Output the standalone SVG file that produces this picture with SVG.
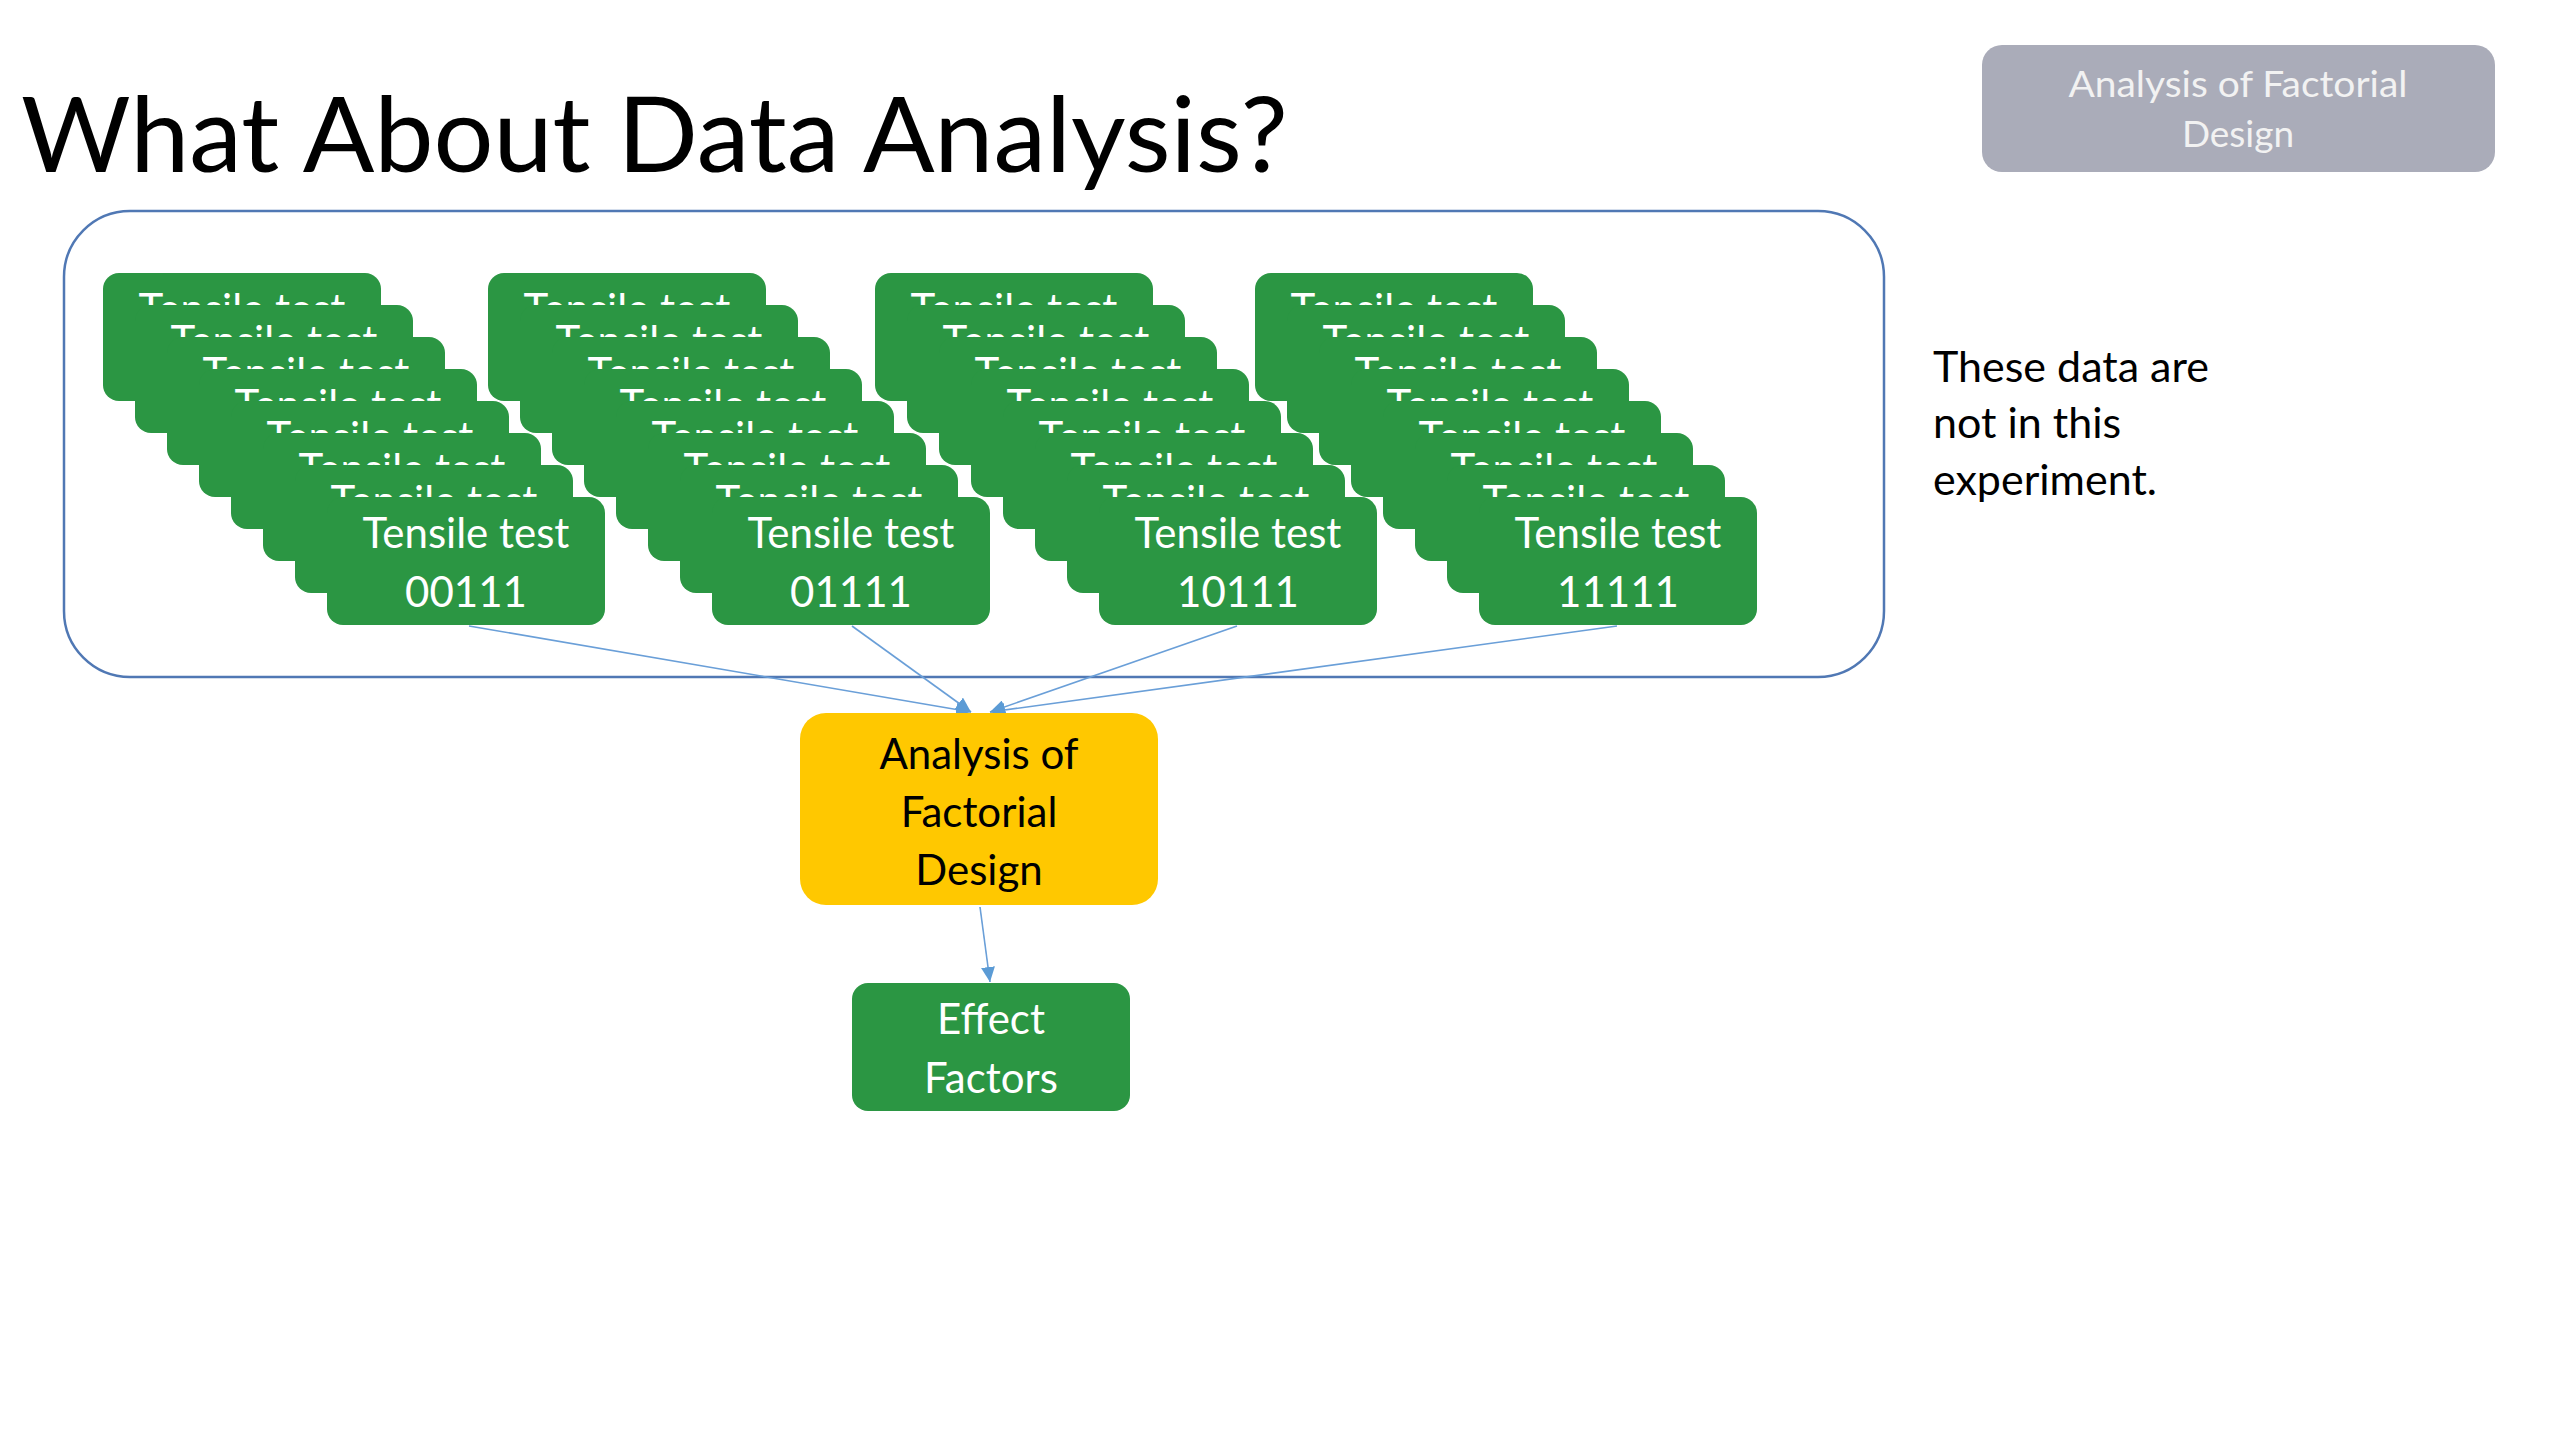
<svg xmlns="http://www.w3.org/2000/svg" width="2560" height="1440" viewBox="0 0 2560 1440">
<style>
.card{fill:#2B9643;}
.ct{fill:#FFFFFF;font-family:Lato,"Open Sans","Liberation Sans",sans-serif;font-size:42px;text-anchor:middle;}
.bt{fill:#000000;font-family:Lato,"Open Sans","Liberation Sans",sans-serif;font-size:42px;text-anchor:middle;}
.conn{stroke:#6A9FD8;stroke-width:1.6;fill:none;}
</style>
<defs>
<marker id="arr" markerUnits="userSpaceOnUse" markerWidth="15" markerHeight="14" refX="15" refY="7" orient="auto">
<path d="M0,0 L15,7 L0,14 z" fill="#5B9BD5"/>
</marker>
<clipPath id="hc"><rect x="0" y="0" width="278" height="32"/></clipPath>
</defs>
<rect width="2560" height="1440" fill="#FFFFFF"/>

<g id="title">
<text x="21" y="172" font-family="Lato,'Open Sans','Liberation Sans',sans-serif" font-weight="400" font-size="104" fill="#000000" textLength="1267" lengthAdjust="spacingAndGlyphs">What About Data Analysis?</text>
</g>

<g id="section-badge">
<rect x="1982" y="45" width="513" height="127" rx="20" fill="#AAACB9"/>
<text x="2238" y="97" font-family="Lato,'Open Sans','Liberation Sans',sans-serif" font-size="37" fill="#F2F2F2" text-anchor="middle" textLength="339" lengthAdjust="spacingAndGlyphs">Analysis of Factorial</text>
<text x="2238" y="147" font-family="Lato,'Open Sans','Liberation Sans',sans-serif" font-size="37" fill="#F2F2F2" text-anchor="middle">Design</text>
</g>

<g id="container">
<rect x="64" y="211" width="1820" height="466" rx="66" fill="none" stroke="#5078B4" stroke-width="2.5"/>
</g>

<g id="note">
<text font-family="Lato,'Open Sans','Liberation Sans',sans-serif" font-size="43" fill="#000000">
<tspan x="1933" y="382">These data are</tspan>
<tspan x="1933" y="438">not in this</tspan>
<tspan x="1933" y="495">experiment.</tspan>
</text>
</g>

<g id="stack-1">
<g id="stack-1-card-1" transform="translate(103,273)"><rect class="card" width="278" height="128" rx="16"/><text class="ct" x="139" y="51" clip-path="url(#hc)">Tensile test</text></g>
<g id="stack-1-card-2" transform="translate(135,305)"><rect class="card" width="278" height="128" rx="16"/><text class="ct" x="139" y="51" clip-path="url(#hc)">Tensile test</text></g>
<g id="stack-1-card-3" transform="translate(167,337)"><rect class="card" width="278" height="128" rx="16"/><text class="ct" x="139" y="51" clip-path="url(#hc)">Tensile test</text></g>
<g id="stack-1-card-4" transform="translate(199,369)"><rect class="card" width="278" height="128" rx="16"/><text class="ct" x="139" y="51" clip-path="url(#hc)">Tensile test</text></g>
<g id="stack-1-card-5" transform="translate(231,401)"><rect class="card" width="278" height="128" rx="16"/><text class="ct" x="139" y="51" clip-path="url(#hc)">Tensile test</text></g>
<g id="stack-1-card-6" transform="translate(263,433)"><rect class="card" width="278" height="128" rx="16"/><text class="ct" x="139" y="51" clip-path="url(#hc)">Tensile test</text></g>
<g id="stack-1-card-7" transform="translate(295,465)"><rect class="card" width="278" height="128" rx="16"/><text class="ct" x="139" y="51" clip-path="url(#hc)">Tensile test</text></g>
<g id="test-00111" transform="translate(327,497)"><rect class="card" width="278" height="128" rx="16"/><text class="ct" x="139" y="51">Tensile test</text><text class="ct" x="139" y="110">00111</text></g>
</g>

<g id="stack-2">
<g id="stack-2-card-1" transform="translate(488,273)"><rect class="card" width="278" height="128" rx="16"/><text class="ct" x="139" y="51" clip-path="url(#hc)">Tensile test</text></g>
<g id="stack-2-card-2" transform="translate(520,305)"><rect class="card" width="278" height="128" rx="16"/><text class="ct" x="139" y="51" clip-path="url(#hc)">Tensile test</text></g>
<g id="stack-2-card-3" transform="translate(552,337)"><rect class="card" width="278" height="128" rx="16"/><text class="ct" x="139" y="51" clip-path="url(#hc)">Tensile test</text></g>
<g id="stack-2-card-4" transform="translate(584,369)"><rect class="card" width="278" height="128" rx="16"/><text class="ct" x="139" y="51" clip-path="url(#hc)">Tensile test</text></g>
<g id="stack-2-card-5" transform="translate(616,401)"><rect class="card" width="278" height="128" rx="16"/><text class="ct" x="139" y="51" clip-path="url(#hc)">Tensile test</text></g>
<g id="stack-2-card-6" transform="translate(648,433)"><rect class="card" width="278" height="128" rx="16"/><text class="ct" x="139" y="51" clip-path="url(#hc)">Tensile test</text></g>
<g id="stack-2-card-7" transform="translate(680,465)"><rect class="card" width="278" height="128" rx="16"/><text class="ct" x="139" y="51" clip-path="url(#hc)">Tensile test</text></g>
<g id="test-01111" transform="translate(712,497)"><rect class="card" width="278" height="128" rx="16"/><text class="ct" x="139" y="51">Tensile test</text><text class="ct" x="139" y="110">01111</text></g>
</g>

<g id="stack-3">
<g id="stack-3-card-1" transform="translate(875,273)"><rect class="card" width="278" height="128" rx="16"/><text class="ct" x="139" y="51" clip-path="url(#hc)">Tensile test</text></g>
<g id="stack-3-card-2" transform="translate(907,305)"><rect class="card" width="278" height="128" rx="16"/><text class="ct" x="139" y="51" clip-path="url(#hc)">Tensile test</text></g>
<g id="stack-3-card-3" transform="translate(939,337)"><rect class="card" width="278" height="128" rx="16"/><text class="ct" x="139" y="51" clip-path="url(#hc)">Tensile test</text></g>
<g id="stack-3-card-4" transform="translate(971,369)"><rect class="card" width="278" height="128" rx="16"/><text class="ct" x="139" y="51" clip-path="url(#hc)">Tensile test</text></g>
<g id="stack-3-card-5" transform="translate(1003,401)"><rect class="card" width="278" height="128" rx="16"/><text class="ct" x="139" y="51" clip-path="url(#hc)">Tensile test</text></g>
<g id="stack-3-card-6" transform="translate(1035,433)"><rect class="card" width="278" height="128" rx="16"/><text class="ct" x="139" y="51" clip-path="url(#hc)">Tensile test</text></g>
<g id="stack-3-card-7" transform="translate(1067,465)"><rect class="card" width="278" height="128" rx="16"/><text class="ct" x="139" y="51" clip-path="url(#hc)">Tensile test</text></g>
<g id="test-10111" transform="translate(1099,497)"><rect class="card" width="278" height="128" rx="16"/><text class="ct" x="139" y="51">Tensile test</text><text class="ct" x="139" y="110">10111</text></g>
</g>

<g id="stack-4">
<g id="stack-4-card-1" transform="translate(1255,273)"><rect class="card" width="278" height="128" rx="16"/><text class="ct" x="139" y="51" clip-path="url(#hc)">Tensile test</text></g>
<g id="stack-4-card-2" transform="translate(1287,305)"><rect class="card" width="278" height="128" rx="16"/><text class="ct" x="139" y="51" clip-path="url(#hc)">Tensile test</text></g>
<g id="stack-4-card-3" transform="translate(1319,337)"><rect class="card" width="278" height="128" rx="16"/><text class="ct" x="139" y="51" clip-path="url(#hc)">Tensile test</text></g>
<g id="stack-4-card-4" transform="translate(1351,369)"><rect class="card" width="278" height="128" rx="16"/><text class="ct" x="139" y="51" clip-path="url(#hc)">Tensile test</text></g>
<g id="stack-4-card-5" transform="translate(1383,401)"><rect class="card" width="278" height="128" rx="16"/><text class="ct" x="139" y="51" clip-path="url(#hc)">Tensile test</text></g>
<g id="stack-4-card-6" transform="translate(1415,433)"><rect class="card" width="278" height="128" rx="16"/><text class="ct" x="139" y="51" clip-path="url(#hc)">Tensile test</text></g>
<g id="stack-4-card-7" transform="translate(1447,465)"><rect class="card" width="278" height="128" rx="16"/><text class="ct" x="139" y="51" clip-path="url(#hc)">Tensile test</text></g>
<g id="test-11111" transform="translate(1479,497)"><rect class="card" width="278" height="128" rx="16"/><text class="ct" x="139" y="51">Tensile test</text><text class="ct" x="139" y="110">11111</text></g>
</g>

<g id="connectors">
<line class="conn" x1="469" y1="626" x2="971" y2="712" marker-end="url(#arr)"/>
<line class="conn" x1="852" y1="626" x2="971" y2="712" marker-end="url(#arr)"/>
<line class="conn" x1="1237" y1="626" x2="990" y2="712" marker-end="url(#arr)"/>
<line class="conn" x1="1617" y1="626" x2="990" y2="712" marker-end="url(#arr)"/>
<line class="conn" x1="980" y1="907" x2="990" y2="982" marker-end="url(#arr)"/>
</g>

<g id="analysis">
<rect x="800" y="713" width="358" height="192" rx="26" fill="#FFC800"/>
<text class="bt" x="979" y="769">Analysis of</text>
<text class="bt" x="979" y="827">Factorial</text>
<text class="bt" x="979" y="885">Design</text>
</g>

<g id="effect-factors">
<rect class="card" x="852" y="983" width="278" height="128" rx="16"/>
<text class="ct" x="991" y="1034">Effect</text>
<text class="ct" x="991" y="1093">Factors</text>
</g>
</svg>
